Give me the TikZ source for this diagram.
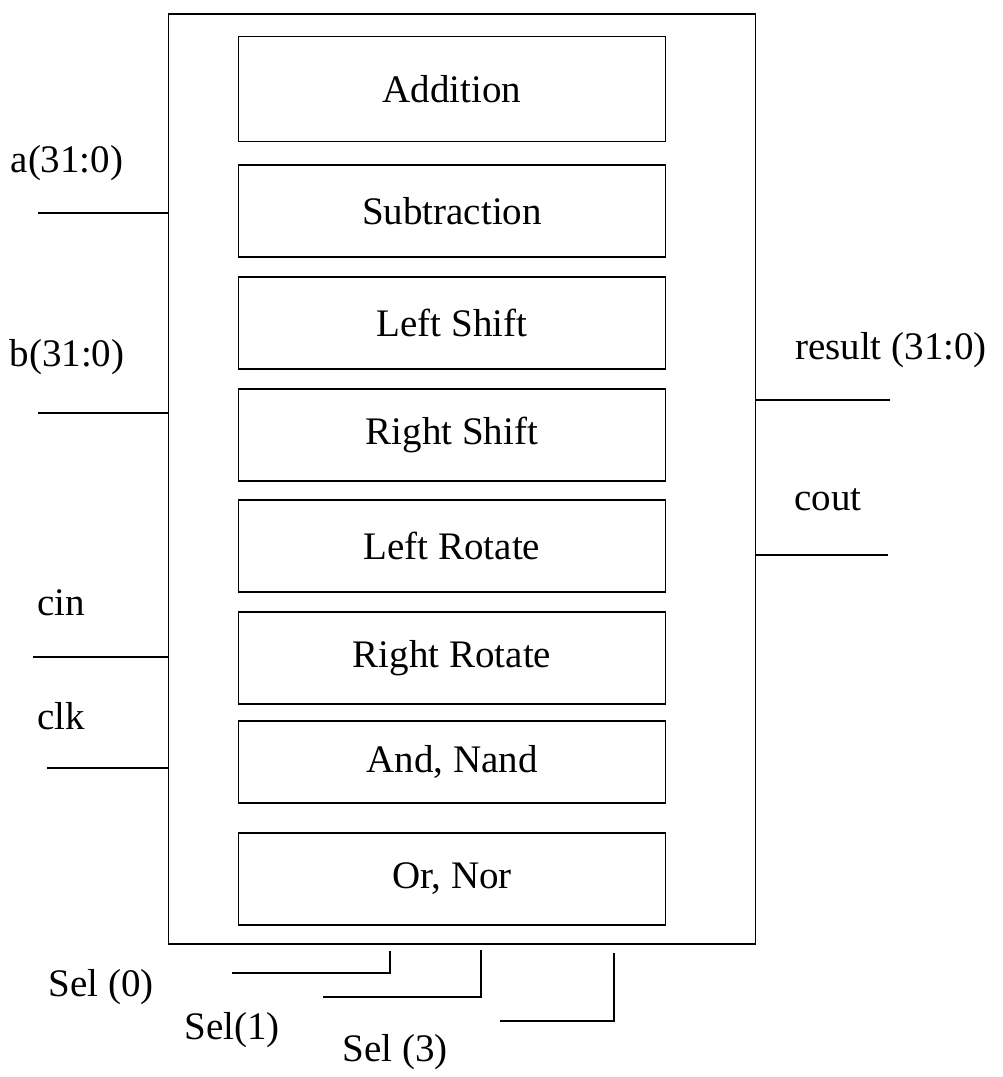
\documentclass[tikz,border=0pt]{standalone}
\usepackage{fontspec}
\setmainfont{Liberation Serif}
\begin{document}
\begin{tikzpicture}[x=1pt,y=-1pt,
  wire/.style={line width=1.6pt},
  fnbox/.style={draw,line width=1.6pt,minimum width=427pt,minimum height=92pt,inner sep=0pt,font=\fontsize{39}{45}\selectfont},
  lbl/.style={inner sep=0pt,font=\fontsize{39}{45}\selectfont}]
\useasboundingbox (0,0) rectangle (1002,1077);
\node[draw,line width=1.6pt,minimum width=587pt,minimum height=930pt,inner sep=0pt] (alu) at (462,479) {};
\node[fnbox,minimum height=105pt] (add) at (452,89) {Addition};
\node[fnbox] (sub) at (452,211) {Subtraction};
\node[fnbox] (lsh) at (452,323) {Left Shift};
\node[fnbox] (rsh) at (452,435) {Right Shift};
\node[fnbox] (lrot) at (452,546) {Left Rotate};
\node[fnbox] (rrot) at (452,658) {Right Rotate};
\node[fnbox,minimum height=82pt] (andn) at (452,762) {And, Nand};
\node[fnbox] (orn) at (452,879) {Or, Nor};
% left pins
\node[lbl] (la) at (67,163) {a(31:0)};
\node[lbl] (lb) at (67,357) {b(31:0)};
\node[lbl] (lcin) at (61,603) {cin};
\node[lbl] (lclk) at (61,716) {clk};
\coordinate (ea) at (38,213);
\coordinate (eb) at (38,413);
\coordinate (ecin) at (33,657);
\coordinate (eclk) at (47,768);
\draw[wire] (ea) -- (ea -| alu.west);
\draw[wire] (eb) -- (eb -| alu.west);
\draw[wire] (ecin) -- (ecin -| alu.west);
\draw[wire] (eclk) -- (eclk -| alu.west);
% right pins
\node[lbl] (lres) at (891,350) {result (31:0)};
\node[lbl] (lcout) at (828,500) {cout};
\coordinate (eres) at (890,400);
\coordinate (ecout) at (888,555);
\draw[wire] (alu.east |- eres) -- (eres);
\draw[wire] (alu.east |- ecout) -- (ecout);
% select pins
\node[lbl] (ls0) at (101,987) {Sel (0)};
\node[lbl] (ls1) at (232,1030) {Sel(1)};
\node[lbl] (ls3) at (395,1052) {Sel (3)};
\coordinate (s0) at (232,973);
\coordinate (s1) at (323,997);
\coordinate (s3) at (500,1021);
\coordinate (t0) at (390,951);
\coordinate (t1) at (481,950);
\coordinate (t3) at (614,953);
\draw[wire] (s0) -| (t0);
\draw[wire] (s1) -| (t1);
\draw[wire] (s3) -| (t3);
\end{tikzpicture}
\end{document}
